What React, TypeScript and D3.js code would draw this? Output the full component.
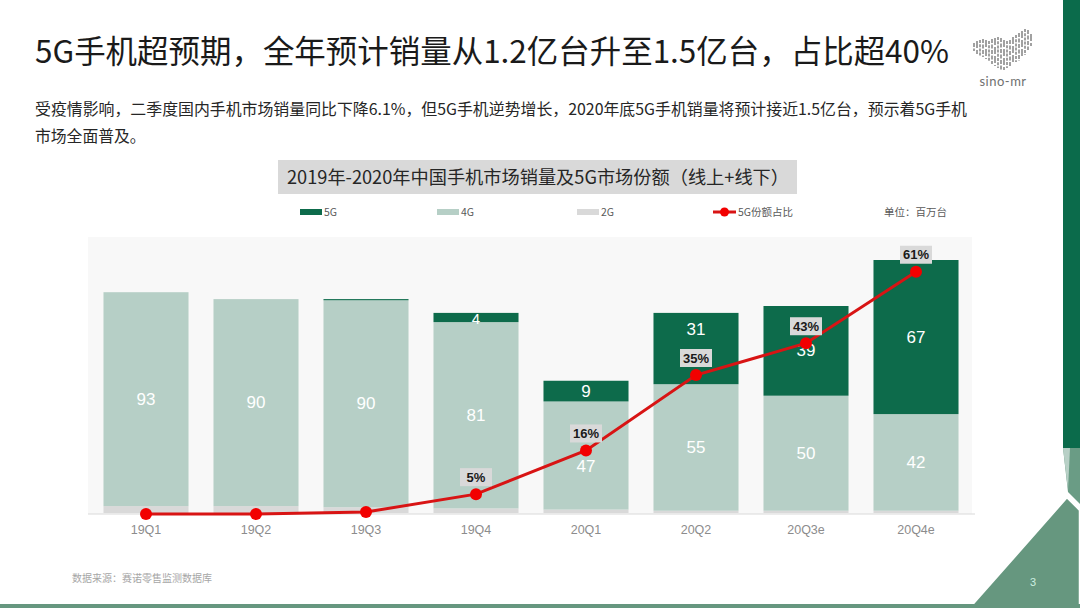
import React from 'react';
import * as d3 from 'd3';

const categories = ['19Q1', '19Q2', '19Q3', '19Q4', '20Q1', '20Q2', '20Q3e', '20Q4e'];
const sales5G = [0, 0, 0.5, 4, 9, 31, 39, 67];
const sales4G = [93, 90, 90, 81, 47, 55, 50, 42];
const sales2G = [3, 3, 2.5, 2, 1.5, 1, 1, 1];
const share5G = [0, 0, 0.5, 5, 16, 35, 43, 61];

const legendItems = ['5G', '4G', '2G'];

const C5 = '#0d6b4b';
const C4 = '#b6cfc6';
const C2 = '#d9d9d9';
const RED_LINE = '#d81414';
const RED_DOT = '#f20000';

const CJK = '"Noto Sans CJK SC", "Microsoft YaHei", sans-serif';
const ARIAL = '"Liberation Sans", Arial, sans-serif';

// logo stripes (decorative): [top, bottom] per column
const logoCols: [number, number][] = [
  [43, 51], [41, 54], [40, 56], [39, 57], [40, 59], [41, 61], [39, 64], [38, 66], [37, 68], [38, 71],
  [40, 70], [41, 68], [40, 66], [37, 64], [35, 62], [33, 61], [31, 58], [29, 55], [30, 50], [34, 46],
];

export default function App() {
  const W = 1080;
  const H = 608;

  const x = d3.scaleBand<string>().domain(categories).range([91, 971]).paddingInner(0.227).paddingOuter(0.1135);
  const y = d3.scaleLinear().domain([0, 120]).range([513, 237]);
  const y2 = d3.scaleLinear().domain([0, 70]).range([514, 236]);

  const rows = categories.map((c, i) => ({ cat: c, g2: sales2G[i], g4: sales4G[i], g5: sales5G[i] }));
  const stack = d3.stack<any>().keys(['g2', 'g4', 'g5'])(rows);
  const colors: Record<string, string> = { g2: C2, g4: C4, g5: C5 };

  const cx = (c: string) => (x(c) ?? 0) + x.bandwidth() / 2;
  const line = d3
    .line<number>()
    .x((_, i) => cx(categories[i]))
    .y((d) => y2(d));

  const bw = x.bandwidth();

  return (
    <svg width={W} height={H} style={{ position: 'fixed', left: 0, top: 0, background: '#fff' }}>
      {/* title */}
      <text x={35} y={63} fontFamily={CJK} fontSize={31.5} fill="#1a1a1a" textLength={914} lengthAdjust="spacingAndGlyphs">
        5G手机超预期，全年预计销量从1.2亿台升至1.5亿台，占比超40%
      </text>
      <text x={35} y={115} fontFamily={CJK} fontSize={15.8} fill="#262626" textLength={932} lengthAdjust="spacingAndGlyphs">
        受疫情影响，二季度国内手机市场销量同比下降6.1%，但5G手机逆势增长，2020年底5G手机销量将预计接近1.5亿台，预示着5G手机
      </text>
      <text x={35} y={142} fontFamily={CJK} fontSize={15.8} fill="#262626">
        市场全面普及。
      </text>

      {/* logo */}
      <g>
        {logoCols.map((c, i) => (
          <line
            key={i}
            x1={974 + i * 3}
            x2={974 + i * 3}
            y1={c[0]}
            y2={c[1]}
            stroke="#8a8a8a"
            strokeWidth={1.6}
            strokeDasharray={i % 3 === 0 ? '4 1.5' : i % 3 === 1 ? '7 2' : '3 1.2'}
          />
        ))}
        <text x={1003} y={86} textAnchor="middle" fontFamily='"Lato", sans-serif' fontSize={13} fill="#707070" letterSpacing={0.5}>
          sino-mr
        </text>
      </g>

      {/* chart title box */}
      <rect x={278} y={160} width={519} height={34} fill="#d9d9d9" />
      <text x={287} y={184} fontFamily={CJK} fontSize={18} fill="#262626" textLength={502} lengthAdjust="spacingAndGlyphs">
        2019年-2020年中国手机市场销量及5G市场份额（线上+线下）
      </text>

      {/* legend */}
      <g fontFamily={CJK} fontSize={10.5} fill="#595959">
        {legendItems.map((k, i) => {
          const lx = [300, 437, 577][i];
          const col = [C5, C4, C2][i];
          return (
            <g key={k}>
              <rect x={lx} y={209} width={22} height={6} fill={col} />
              <text x={lx + 24} y={216}>{k}</text>
            </g>
          );
        })}
        <line x1={713} x2={736} y1={212} y2={212} stroke={RED_LINE} strokeWidth={3} />
        <circle cx={724.5} cy={212} r={4.5} fill={RED_DOT} />
        <text x={738} y={216}>5G份额占比</text>
        <text x={884} y={216}>单位：百万台</text>
      </g>

      {/* plot background */}
      <rect x={88} y={237} width={884} height={277} fill="#f8f8f8" />

      {/* bars */}
      {stack.map((layer) => (
        <g key={layer.key} fill={colors[layer.key]}>
          {layer.map((d, i) => {
            const h = y(d[0]) - y(d[1]);
            if (h <= 0) return null;
            return <rect key={i} x={x(categories[i])} y={y(d[1])} width={bw} height={h} />;
          })}
        </g>
      ))}

      {/* baseline */}
      <line x1={88} x2={975} y1={514} y2={514} stroke="#d9d9d9" strokeWidth={1.2} />

      {/* bar labels */}
      <g fontFamily={ARIAL} fontSize={17} fill="#ffffff" textAnchor="middle" dominantBaseline="central">
        {categories.map((c, i) => {
          const s4 = stack[1][i];
          const s5 = stack[2][i];
          const mid4 = (y(s4[0]) + y(s4[1])) / 2;
          const mid5 = (y(s5[0]) + y(s5[1])) / 2;
          const py = y2(share5G[i]);
          const labY = py - 17;
          let l4 = mid4;
          if (Math.abs(mid4 - py) < 9) l4 = py + 16;
          let l5 = mid5;
          if (share5G[i] >= 1 && Math.abs(mid5 - labY) < 15) l5 = labY - 29;
          return (
            <g key={c}>
              <text x={cx(c)} y={l4}>{sales4G[i]}</text>
              {sales5G[i] >= 1 && (
                <text x={cx(c)} y={sales5G[i] < 6 ? mid5 + 1 : l5} fontSize={sales5G[i] < 6 ? 15 : 17}>
                  {sales5G[i]}
                </text>
              )}
            </g>
          );
        })}
      </g>

      {/* share line */}
      <path d={line(share5G) ?? ''} fill="none" stroke={RED_LINE} strokeWidth={3} />
      {share5G.map((v, i) => (
        <circle key={i} cx={cx(categories[i])} cy={y2(v)} r={6} fill={RED_DOT} />
      ))}
      {share5G.map((v, i) =>
        v >= 1 ? (
          <g key={'l' + i}>
            <rect x={cx(categories[i]) - 16} y={y2(v) - 26} width={32} height={18} fill="#d9d9d9" />
            <text
              x={cx(categories[i])}
              y={y2(v) - 17}
              textAnchor="middle"
              dominantBaseline="central"
              fontFamily={ARIAL}
              fontWeight="bold"
              fontSize={13}
              fill="#1a1a1a"
            >
              {v}%
            </text>
          </g>
        ) : null
      )}

      {/* x axis labels */}
      <g fontFamily={ARIAL} fontSize={12.5} fill="#8c8c8c" textAnchor="middle">
        {categories.map((c) => (
          <text key={c} x={cx(c)} y={534}>{c}</text>
        ))}
      </g>

      {/* source */}
      <text x={72} y={582} fontFamily={CJK} fontSize={10} fill="#a6a6a6">
        数据来源：赛诺零售监测数据库
      </text>

      {/* right decorations */}
      <rect x={1063} y={0} width={17} height={448} fill="#0b6b4b" />
      <polygon points="1063,448 1080,448 1080,504 1068,492" fill="#6a9c85" />
      <polygon points="1063,448 1070,448 1068,490" fill="#b8d0c6" />
      <polygon points="969,608 1067,497 1080,510 1080,608" fill="#66977f" stroke="#ffffff" strokeWidth={2.5} />
      <rect x={0} y={604} width={W} height={4} fill="#66977f" />
      <text x={1033} y={586} textAnchor="middle" fontFamily={ARIAL} fontSize={11} fill="#cdeee0">
        3
      </text>
    </svg>
  );
}
